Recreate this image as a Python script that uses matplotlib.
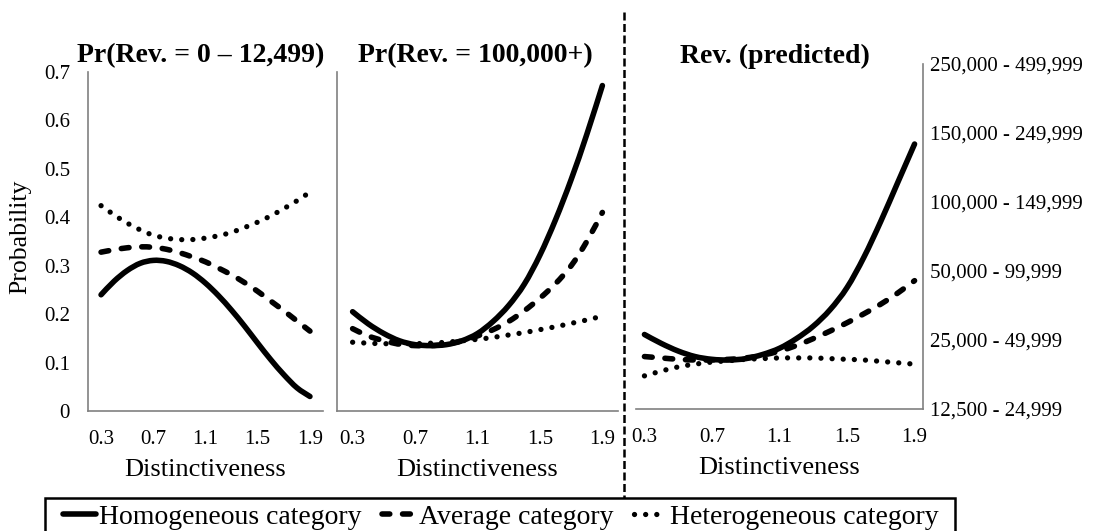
import matplotlib
matplotlib.use('Agg')
import numpy as np
import matplotlib.pyplot as plt
from matplotlib.lines import Line2D
from matplotlib.path import Path
from matplotlib.patches import PathPatch, Rectangle

plt.rcParams['font.family'] = ['Liberation Serif', 'DejaVu Serif']

distinct = [0.3, 0.4, 0.5, 0.6, 0.7, 0.8, 0.9, 1.0, 1.1, 1.2, 1.3, 1.4, 1.5, 1.6, 1.7, 1.8, 1.9]

# Pr(Rev. = 0 - 12,499)
low_homog = [0.240, 0.268, 0.290, 0.305, 0.311, 0.309, 0.300, 0.285, 0.264, 0.238, 0.208, 0.175, 0.140, 0.106, 0.075, 0.048, 0.030]
low_avg = [0.328, 0.333, 0.337, 0.339, 0.338, 0.334, 0.327, 0.318, 0.308, 0.295, 0.281, 0.265, 0.247, 0.227, 0.207, 0.186, 0.165]
low_heter = [0.424, 0.405, 0.388, 0.374, 0.363, 0.357, 0.354, 0.354, 0.357, 0.362, 0.369, 0.379, 0.390, 0.403, 0.418, 0.434, 0.452]

# Pr(Rev. = 100,000+)
high_homog = [0.205, 0.180, 0.160, 0.145, 0.137, 0.135, 0.137, 0.145, 0.160, 0.185, 0.218, 0.262, 0.322, 0.395, 0.478, 0.571, 0.672]
high_avg = [0.170, 0.155, 0.145, 0.138, 0.135, 0.135, 0.138, 0.145, 0.155, 0.168, 0.185, 0.207, 0.233, 0.263, 0.300, 0.350, 0.410]
high_heter = [0.142, 0.140, 0.139, 0.139, 0.139, 0.140, 0.142, 0.145, 0.148, 0.152, 0.157, 0.162, 0.168, 0.174, 0.181, 0.188, 0.196]

# predicted revenue class (0 = 12,500 - 24,999 ... 5 = 250,000 - 499,999)
pred_homog = [1.08, 0.95, 0.84, 0.76, 0.72, 0.71, 0.73, 0.79, 0.88, 1.02, 1.20, 1.44, 1.76, 2.20, 2.72, 3.28, 3.84]
pred_avg = [0.76, 0.74, 0.72, 0.71, 0.71, 0.72, 0.74, 0.78, 0.84, 0.92, 1.02, 1.13, 1.25, 1.38, 1.52, 1.68, 1.86]
pred_heter = [0.48, 0.55, 0.61, 0.65, 0.68, 0.70, 0.72, 0.73, 0.74, 0.74, 0.74, 0.73, 0.72, 0.71, 0.69, 0.67, 0.65]

rev_labels = ['12,500 - 24,999', '25,000 - 49,999', '50,000 - 99,999',
              '100,000 - 149,999', '150,000 - 249,999', '250,000 - 499,999']
xticks = [0.3, 0.7, 1.1, 1.5, 1.9]
series_names = ['Homogeneous category', 'Average category', 'Heterogeneous category']

W, H = 1095, 531
fig = plt.figure(figsize=(W / 100, H / 100), dpi=100)

def box(l, r, t, b):
    return [l / W, 1 - b / H, (r - l) / W, (b - t) / H]

ax1 = fig.add_axes(box(88, 323, 72, 411))
ax2 = fig.add_axes(box(337, 618, 72, 411))
ax3 = fig.add_axes(box(636, 923, 64, 409))

def smooth(x, y):
    # Excel-style smoothed line: cubic bezier through the points
    pts = np.column_stack([x, y])
    n = len(pts)
    verts = [pts[0]]
    codes = [Path.MOVETO]
    for i in range(n - 1):
        p0, p1 = pts[max(i - 1, 0)], pts[i]
        p2, p3 = pts[i + 1], pts[min(i + 2, n - 1)]
        verts += [p1 + (p2 - p0) / 6, p2 - (p3 - p1) / 6, p2]
        codes += [Path.CURVE4] * 3
    return Path(verts, codes)

gray = '#808080'
styles = [dict(ls='-', lw=4.0),
          dict(ls=(0, (1.4, 2.3)), lw=4.0),
          dict(ls=(0, (0.01, 2.1)), lw=3.8)]

panels = [(ax1, [low_homog, low_avg, low_heter]),
          (ax2, [high_homog, high_avg, high_heter]),
          (ax3, [pred_homog, pred_avg, pred_heter])]

for ax, ys in panels:
    for y, st in zip(ys, styles):
        ax.add_patch(PathPatch(smooth(distinct, y), fill=False, edgecolor='black',
                               linewidth=st['lw'], linestyle=st['ls'],
                               capstyle='round', joinstyle='round'))
    ax.set_xticks(xticks)
    ax.set_xticklabels([str(v) for v in xticks])
    ax.tick_params(axis='both', length=0, labelsize=15)
    ax.tick_params(axis='x', pad=14)
    for s in ['top', 'right', 'left', 'bottom']:
        ax.spines[s].set_visible(False)
    ax.spines['bottom'].set_visible(True)
    ax.spines['bottom'].set_color(gray)
    ax.spines['bottom'].set_linewidth(1.2)
    ax.set_xlabel('Distinctiveness', fontsize=19, labelpad=7)

for ax in (ax1, ax2):
    ax.set_xlim(0.2, 2.0)
    ax.set_ylim(0, 0.7)
    ax.spines['left'].set_visible(True)
    ax.spines['left'].set_color(gray)
    ax.spines['left'].set_linewidth(1.2)

ax1.set_yticks([0, 0.1, 0.2, 0.3, 0.4, 0.5, 0.6, 0.7])
ax1.set_yticklabels(['0', '0.1', '0.2', '0.3', '0.4', '0.5', '0.6', '0.7'])
ax1.tick_params(axis='y', pad=13)
ax2.set_yticks([])

ax3.set_xlim(0.25, 1.95)
ax3.set_ylim(0, 5)
ax3.spines['right'].set_visible(True)
ax3.spines['right'].set_color(gray)
ax3.spines['right'].set_linewidth(1.2)
ax3.yaxis.tick_right()
ax3.set_yticks(range(len(rev_labels)))
ax3.set_yticklabels(rev_labels)
ax3.tick_params(axis='y', pad=5)

fig.text(20 / W, 1 - 237 / H, 'Probability', rotation=90, fontsize=18.5,
         ha='center', va='center')

tkw = dict(fontsize=20, fontweight='bold', ha='center', va='center')
fig.text(201 / W, 1 - 56 / H, 'Pr(Rev. = 0 \u2013 12,499)', **tkw)
fig.text(475 / W, 1 - 56 / H, 'Pr(Rev. = 100,000+)', **tkw)
fig.text(775 / W, 1 - 56 / H, 'Rev. (predicted)', **tkw)

# dashed separator between probability panels and prediction panel
fig.add_artist(Line2D([624 / W, 624 / W], [1 - 12 / H, 1 - 498 / H],
                      transform=fig.transFigure, color='black', lw=1.8,
                      ls=(0, (3.2, 1.4))))

# legend, with a box that runs off the bottom edge like the original
fig.add_artist(Rectangle((45 / W, 1 - 545 / H), 910 / W, 47 / H,
                         transform=fig.transFigure, fill=False,
                         edgecolor='black', lw=1.8))
handles = [Line2D([], [], color='black', lw=st['lw'], ls=st['ls'],
                  solid_capstyle='round', dash_capstyle='round') for st in styles]
fig.legend(handles, series_names, loc='center left',
           bbox_to_anchor=(63 / W, 1 - 517 / H), ncol=3, fontsize=20,
           frameon=False, handlelength=1.2, handletextpad=0.1,
           columnspacing=0.75, borderpad=0, borderaxespad=0)

fig.savefig('out.png', dpi=100)
